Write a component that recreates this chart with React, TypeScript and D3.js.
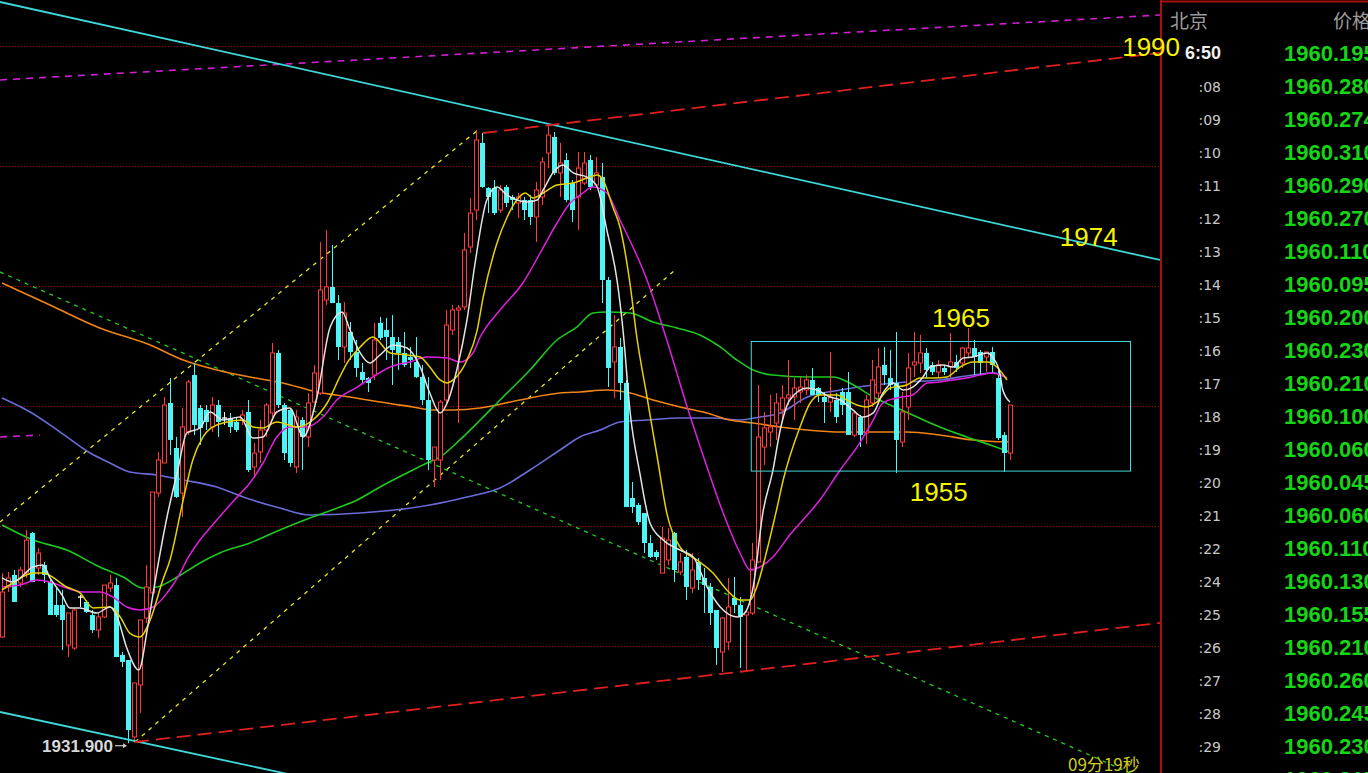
import React, { useEffect } from "react";
import * as d3 from "d3";

// ---------- candle data (index 0..168) ----------
const opens = [
1940.75,1944.92,1945.92,1945.25,1946.08,1949.42,1946.50,1946.75,1945.33,1943.42,
1943.42,1940.08,1939.83,1944.08,1943.67,1942.58,1941.33,1942.42,1944.83,1945.08,
1939.25,1938.83,1932.42,1936.75,1942.33,1944.42,1952.75,1955.25,1960.25,1956.50,
1952.75,1957.83,1962.58,1959.83,1959.67,1958.25,1960.08,1959.00,1959.00,1958.67,
1958.83,1959.50,1954.92,1956.17,1958.00,1959.42,1964.42,1960.08,1959.67,1954.92,
1958.83,1957.42,1960.33,1961.08,1968.83,1969.92,1968.58,1964.92,1966.17,1964.50,
1962.83,1962.33,1962.58,1966.92,1966.33,1965.75,1965.33,1964.42,1964.08,1963.67,
1962.42,1960.50,1955.50,1955.50,1960.50,1966.33,1968.00,1968.25,1973.25,1976.33,
1981.92,1978.17,1978.17,1976.33,1978.25,1977.42,1976.92,1977.17,1977.17,1975.75,
1977.42,1981.08,1982.42,1979.42,1980.50,1978.58,1977.42,1978.58,1980.50,1978.42,
1979.08,1970.50,1963.67,1964.92,1961.92,1952.33,1951.75,1951.08,1948.58,1947.83,
1946.08,1947.17,1949.42,1946.17,1947.42,1944.83,1947.00,1945.67,1944.92,1943.00,
1939.50,1940.33,1944.00,1943.42,1942.58,1942.75,1947.00,1956.58,1957.83,1958.58,
1959.67,1960.67,1960.75,1961.17,1961.33,1962.17,1961.50,1960.75,1960.33,1960.50,
1961.17,1961.17,1957.58,1959.08,1957.75,1960.25,1961.08,1963.42,1962.33,1961.92,
1957.00,1959.92,1963.42,1963.58,1964.42,1963.42,1962.83,1963.17,1963.25,1963.67,
1963.58,1964.42,1964.83,1964.50,1964.08,1964.50,1962.33,1957.58,1956.08];

const highs = [
1946.08,1946.17,1946.33,1946.58,1949.67,1949.50,1948.17,1947.00,1945.50,1944.83,
1944.67,1942.75,1943.17,1944.25,1943.83,1943.00,1942.75,1945.08,1945.92,1945.67,
1939.50,1938.83,1936.92,1942.17,1946.75,1952.83,1956.17,1960.75,1962.33,1957.42,
1959.83,1962.17,1963.58,1960.08,1960.08,1960.75,1960.50,1959.50,1959.42,1959.00,
1959.67,1960.50,1956.92,1958.83,1960.25,1965.25,1964.67,1960.25,1959.83,1959.67,
1959.08,1961.08,1963.42,1973.67,1974.67,1973.42,1969.25,1968.67,1967.00,1965.50,
1963.58,1962.42,1966.92,1967.42,1967.33,1967.58,1965.75,1966.17,1964.92,1965.75,
1963.42,1962.42,1956.58,1960.50,1968.00,1968.42,1968.42,1974.42,1977.33,1983.00,
1982.75,1978.25,1978.83,1978.42,1978.42,1977.58,1977.75,1977.42,1977.58,1978.67,
1980.75,1983.42,1982.83,1981.92,1981.08,1978.83,1981.17,1981.17,1980.92,1980.75,
1980.25,1970.75,1967.58,1965.67,1962.17,1953.67,1951.92,1951.08,1949.25,1948.00,
1949.92,1949.83,1949.50,1947.75,1948.00,1947.75,1947.33,1946.50,1945.25,1943.00,
1942.42,1945.67,1945.75,1944.08,1943.00,1948.58,1961.75,1959.50,1960.92,1961.08,
1961.75,1963.83,1962.33,1962.42,1962.58,1963.17,1961.58,1961.17,1964.50,1961.08,
1961.50,1962.83,1959.50,1959.25,1960.92,1963.83,1964.83,1964.92,1964.67,1966.17,
1961.17,1964.42,1966.17,1965.92,1964.83,1963.67,1963.83,1963.42,1966.08,1964.25,
1964.92,1966.50,1965.50,1964.67,1964.50,1964.92,1963.17,1957.83,1960.08];

const lows = [
1940.67,1944.50,1943.67,1944.92,1945.67,1945.33,1945.92,1945.25,1942.58,1942.42,
1939.67,1939.08,1939.67,1943.25,1942.75,1941.08,1940.67,1942.33,1944.50,1939.08,
1938.25,1931.90,1931.95,1934.42,1941.92,1944.42,1952.42,1955.25,1955.92,1952.33,
1950.75,1957.58,1957.58,1956.75,1958.00,1957.83,1957.42,1958.42,1957.75,1957.83,
1958.42,1954.50,1954.00,1955.25,1957.42,1959.08,1959.83,1955.50,1954.92,1954.42,
1954.67,1956.58,1960.25,1960.92,1968.42,1968.58,1963.83,1963.58,1963.83,1962.42,
1961.92,1961.17,1962.17,1965.50,1963.83,1961.75,1963.00,1963.25,1963.17,1962.33,
1960.08,1954.67,1953.25,1953.83,1960.25,1965.92,1958.58,1968.00,1972.75,1975.50,
1978.17,1976.08,1975.92,1976.08,1976.58,1976.33,1975.67,1975.50,1975.08,1973.67,
1976.75,1979.83,1979.25,1977.42,1977.00,1975.33,1974.67,1978.42,1978.00,1978.25,
1968.58,1961.58,1960.67,1960.50,1951.58,1951.08,1950.08,1947.75,1947.33,1947.17,
1946.08,1946.75,1945.33,1945.92,1943.83,1944.42,1944.67,1942.75,1941.75,1938.42,
1937.83,1939.67,1942.75,1938.17,1937.83,1942.58,1946.92,1955.08,1956.58,1957.17,
1958.83,1960.08,1958.83,1960.25,1960.92,1960.92,1960.33,1958.58,1959.50,1958.58,
1959.25,1957.58,1957.42,1956.58,1956.83,1959.92,1960.25,1961.75,1961.33,1954.42,
1956.58,1958.83,1962.42,1962.75,1962.33,1962.58,1962.33,1962.58,1962.33,1962.83,
1963.17,1964.00,1962.58,1962.58,1962.83,1962.75,1957.17,1954.50,1955.50];

const closes = [
1944.50,1945.67,1943.67,1946.33,1948.83,1945.33,1947.75,1945.92,1942.58,1942.58,
1942.17,1942.75,1943.00,1944.08,1942.83,1941.33,1942.42,1945.08,1945.25,1939.08,
1938.67,1933.00,1936.92,1942.17,1944.92,1952.83,1955.50,1960.08,1957.17,1952.42,
1958.25,1962.00,1958.42,1958.17,1958.67,1960.08,1958.67,1959.00,1958.25,1958.00,
1959.25,1954.67,1956.08,1958.00,1960.08,1964.42,1960.08,1956.08,1955.25,1959.08,
1957.42,1960.25,1962.75,1969.67,1969.92,1968.58,1964.92,1967.75,1964.50,1963.17,
1962.17,1961.92,1965.50,1965.67,1965.75,1964.67,1964.42,1963.42,1963.83,1962.42,
1960.50,1955.50,1956.58,1960.33,1966.75,1968.00,1968.17,1973.00,1976.08,1982.17,
1978.25,1977.42,1976.08,1978.00,1976.92,1977.17,1977.42,1976.33,1975.75,1978.00,
1980.33,1982.58,1979.42,1980.25,1977.17,1976.33,1979.83,1980.25,1978.25,1979.42,
1970.50,1963.17,1964.92,1961.92,1951.58,1951.58,1950.33,1948.58,1947.42,1947.42,
1949.00,1948.83,1946.33,1947.00,1944.92,1946.33,1945.50,1945.08,1942.75,1939.83,
1942.33,1943.25,1943.42,1942.42,1942.83,1947.17,1957.42,1958.17,1958.25,1960.25,
1960.67,1960.92,1961.50,1961.58,1962.17,1960.92,1960.92,1960.33,1960.75,1959.08,
1960.08,1957.58,1959.42,1957.58,1960.50,1962.17,1963.25,1962.58,1961.75,1957.17,
1959.50,1963.17,1963.67,1964.42,1963.00,1962.83,1963.42,1962.83,1963.67,1963.17,
1964.83,1964.83,1964.08,1963.58,1964.50,1963.42,1957.33,1956.08,1960.08];

// ---------- moving average lines (bar index, price) ----------
const maWhiteIdx = [0,1.8,5.2,6.8,8,10,11.3,13,15.8,18,19.2,20.8,22.8,24.2,25.2,27.5,29.3,30.8,33,34.7,36.8,39.7,41.8,43.5,45.8,48,50.2,52.5,54.7,56.7,58,59.7,61.3,63,65.2,67.5,69.7,71.3,73,74.2,75.8,77.5,78.8,80.8,82.5,84.2,85.8,87.5,89.2,90.2,91.8,93.5,95.2,97.5,99.2,100.8,102.5,103.5,104.7,106.3,108,110.2,113,115.2,117.5,119.7,122.5,123.8,125.2,126.8,128.5,129.7,131.3,134.2,135.8,138,139.7,141.8,143.5,145.2,146.8,148.5,150.2,151.8,153.5,154.7,156.8,158.5,160.2,161.8,164.2,165.2,166.3,166.8,168];
const maWhite = [1945.67,1945.33,1946.58,1946.75,1945.67,1944.25,1943.17,1943.17,1942.75,1943.25,1942.42,1939.83,1938.00,1941.33,1944.42,1950.75,1954.67,1957.75,1958.17,1959.50,1958.83,1959.08,1957.33,1957.42,1959.50,1959.83,1957.42,1960.75,1966.58,1967.83,1966.33,1964.42,1963.58,1964.25,1965.08,1964.83,1963.25,1961.08,1959.42,1960.25,1963.00,1967.17,1971.75,1977.17,1978.25,1977.58,1977.17,1977.00,1977.17,1978.00,1979.42,1980.08,1979.42,1979.08,1978.25,1974.67,1970.50,1966.33,1959.42,1954.42,1950.25,1948.83,1948.00,1947.42,1944.92,1943.25,1942.42,1942.75,1944.92,1951.08,1954.67,1958.00,1960.50,1961.50,1961.33,1960.75,1960.50,1959.67,1959.08,1959.42,1961.08,1961.92,1961.33,1961.58,1962.42,1963.25,1963.42,1963.25,1964.00,1964.08,1964.42,1964.00,1962.75,1961.33,1960.33];

const maYellowIdx = [0,1.8,5.2,6.8,10.8,13,15.2,18,19.7,21.3,23,24.7,26.8,28,30.2,31.8,33.5,35.8,36.8,40.2,41.8,43.5,45.8,49.2,51.8,54.2,56.3,57.5,59.7,61.8,64.7,67.5,69.7,71.3,73,74.2,75.2,77.5,79.2,80.2,82.5,84.2,85.8,87.2,88.5,90.2,92.5,95.2,97.5,99.2,100.2,101.8,103,104.7,105.8,107.5,109.2,110.8,113,115.8,118.5,120.8,123,124.7,125.8,127.5,129.2,130.2,133,134.7,136.3,139.2,140.8,142.5,144.2,145.8,148,150.8,153,155.2,157.5,159.7,161.8,164.2,165.8,167.5];
const maYellow = [1944.67,1945.25,1946.08,1946.08,1944.92,1944.42,1943.17,1943.25,1942.42,1941.08,1940.75,1942.17,1945.50,1947.17,1952.17,1955.50,1957.42,1958.42,1958.58,1958.83,1958.25,1958.17,1958.67,1958.25,1958.83,1960.25,1962.42,1963.58,1964.92,1965.75,1964.42,1964.25,1964.08,1963.25,1962.17,1961.92,1962.17,1963.83,1966.33,1969.08,1973.58,1975.75,1977.17,1977.75,1977.33,1977.75,1978.42,1978.58,1979.00,1979.25,1978.83,1976.58,1974.92,1970.08,1965.75,1960.75,1955.75,1951.08,1948.25,1947.17,1946.08,1944.67,1943.83,1943.83,1944.92,1948.00,1951.58,1953.83,1958.25,1960.25,1960.92,1960.92,1960.50,1960.08,1959.92,1960.33,1961.50,1961.75,1962.33,1962.33,1962.42,1963.25,1963.67,1963.67,1963.25,1962.17];

const maMagentaIdx = [0,3,5.8,8,10.8,13.5,16.3,18.5,20.8,23,25.2,27.5,29.7,30.8,33,35.8,39.2,41.3,43.5,45.8,48,50.8,53.5,55.8,59.2,61.8,64.7,68,70.8,74.2,76.3,78.5,79.7,83,86.8,89.7,92.5,94.7,96.8,98.5,100.8,103,107.5,110.8,114.2,117.5,120.2,123,124.7,126.3,128.5,131.3,136.3,139.7,142.5,145.2,146.8,149.2,151.8,154.2,156.3,158.5,160.8,163,165.2,167.5];
const maMagenta = [1944.92,1945.08,1945.50,1945.33,1944.83,1944.50,1944.50,1944.08,1943.25,1943.00,1943.25,1944.42,1946.08,1947.17,1948.83,1950.50,1952.42,1953.58,1955.25,1957.42,1958.25,1958.25,1959.08,1960.50,1961.58,1962.42,1963.25,1963.67,1964.08,1964.00,1963.67,1964.42,1965.75,1968.00,1970.25,1972.75,1975.25,1976.92,1977.75,1978.25,1977.75,1975.50,1970.50,1965.50,1959.92,1954.92,1951.08,1947.75,1946.33,1946.58,1947.42,1949.25,1952.17,1954.67,1956.58,1958.83,1960.25,1960.67,1960.92,1961.92,1962.00,1962.17,1962.33,1962.58,1962.75,1962.33];

const maGreenIdx = [0,5.2,10.8,16.3,20.2,23.5,25.8,29.2,33,36.3,41.3,46.3,51.3,56.3,59.2,63,67.5,70.8,73,76.3,79.7,83,88,92.5,95.8,98.5,100.8,104.7,108.5,112.5,116.3,119.7,122.5,125.2,128.5,134.2,138.5,141.3,145.2,149.2,152.5,156.3,160.8,164.7,168];
const maGreen = [1950.08,1948.83,1948.00,1946.58,1945.75,1944.83,1944.92,1945.75,1946.92,1947.75,1948.58,1949.67,1950.67,1951.58,1952.17,1953.25,1954.42,1955.25,1955.75,1957.17,1958.83,1960.50,1963.00,1965.50,1966.58,1967.75,1967.83,1967.75,1967.00,1966.50,1965.92,1964.92,1963.83,1963.00,1962.58,1962.42,1962.42,1961.92,1960.75,1959.83,1959.08,1958.25,1957.42,1956.75,1956.17];

const maOrangeIdx = [0,8,16.3,24.7,30.2,35.8,41.3,46.8,52.5,58,63,68.5,71.8,75.2,79.7,86.3,93,96.3,100.8,104.7,108.5,113,117.5,121.3,125.2,129.7,134.2,139.7,145.2,150.8,156.3,161.8,168];
const maOrange = [1970.25,1968.42,1966.50,1965.08,1963.83,1963.00,1962.42,1961.92,1961.17,1960.75,1960.33,1959.92,1959.67,1959.67,1959.83,1960.50,1961.08,1961.17,1961.33,1961.08,1960.50,1959.92,1959.42,1958.83,1958.58,1958.25,1958.00,1957.83,1957.83,1957.83,1957.58,1957.17,1957.00];

const maBlueIdx = [0,4.7,9.7,14.7,18,21.3,25.8,30.2,35.8,40.2,46.3,51.3,59.7,71.3,77.5,83,88,93,96.3,99.7,103,107.5,113,118.5,123,126.3,129.7,134.2,139.7,145.2,150.8,156.3,161.8,165.2,167.5];
const maBlue = [1960.67,1959.50,1957.83,1956.08,1955.25,1954.50,1954.25,1953.83,1953.25,1952.42,1951.50,1950.92,1951.08,1951.75,1952.42,1953.17,1954.67,1956.33,1957.42,1958.00,1958.67,1958.83,1959.00,1959.00,1958.83,1959.08,1959.42,1960.75,1961.33,1961.75,1962.00,1962.17,1962.58,1962.75,1962.33];

// ---------- drawn trend lines: [bar index, price] end points ----------
const trendCyanTop = [[-0.33, 1993.67], [193, 1972.17]];
const trendCyanBottom = [[-0.33, 1934.5], [60, 1928.0]];
const trendMagentaTop = [[-0.33, 1987.17], [193, 1992.58]];
const trendMagentaLeft = [[-0.33, 1957.42], [6.3, 1957.58]];
const trendRedTop = [[80.17, 1982.75], [193, 1989.42]];
const trendRedBottom = [[22.17, 1932.0], [193, 1941.92]];
const trendYellowUpper = [[-0.33, 1950.33], [79.33, 1983.0]];
const trendYellowLower = [[22.17, 1932.0], [112.17, 1971.33]];
const trendGreen = [[-0.33, 1971.17], [188, 1929.42]];

const gridPrices = [1990, 1980, 1970, 1960, 1950, 1940];
const boxRange = { i0: 124.8, i1: 188, top: 1965.4, bottom: 1954.6 };

const annotations = [
  { text: "1990", i: 186.7, p: 1989.2 },
  { text: "1974", i: 176.3, p: 1973.3 },
  { text: "1965", i: 155.0, p: 1966.6 },
  { text: "1955", i: 151.3, p: 1952.1 },
];
const lowLabel = { text: "1931.900", i: 21, p: 1931.9 };
const timerText = "09分19秒";

// ---------- right side tick list ----------
const tickTimes = ["6:50", ":08", ":09", ":10", ":11", ":12", ":13", ":14", ":15", ":16", ":17", ":18", ":19", ":20", ":21", ":22", ":24", ":25", ":26", ":27", ":28", ":29", ":30"];
const tickPrices = ["1960.195", "1960.280", "1960.274", "1960.310", "1960.290", "1960.270", "1960.110", "1960.095", "1960.200", "1960.230", "1960.210", "1960.100", "1960.060", "1960.045", "1960.060", "1960.110", "1960.130", "1960.155", "1960.210", "1960.260", "1960.245", "1960.230", "1960.215"];

const W = 1368;
const H = 773;
const PLOT_RIGHT = 1160;

const xs = d3.scaleLinear().domain([0, 168]).range([2, 1010]);
const ys = d3.scaleLinear().domain([1930, 1990]).range([766, 46]);

const RED = "#ff3b3b";
const CYAN = "#4ff5f5";

function maPath(idx: number[], vals: number[]) {
  const pts = idx.map((v, k) => [v, vals[k]] as [number, number]);
  return d3
    .line<[number, number]>()
    .x((d) => xs(d[0]))
    .y((d) => ys(d[1]))
    .curve(d3.curveMonotoneX)(pts) as string;
}

function seg(p: number[][]) {
  return {
    x1: xs(p[0][0]),
    y1: ys(p[0][1]),
    x2: xs(p[1][0]),
    y2: ys(p[1][1]),
  };
}

export default function App() {
  useEffect(() => {
    document.body.style.margin = "0";
    document.body.style.background = "#000";
  }, []);

  const candles = d3.range(opens.length).map((i) => {
    const o = opens[i], c = closes[i], h = highs[i], l = lows[i];
    const xr = Math.round(xs(i));
    const xc = xr + 0.5;
    if (c > o) {
      return (
        <g key={i}>
          <line x1={xc} x2={xc} y1={ys(h)} y2={ys(c)} stroke={RED} strokeWidth={1} />
          <line x1={xc} x2={xc} y1={ys(o)} y2={ys(l)} stroke={RED} strokeWidth={1} />
          <rect x={xr - 1.5} y={ys(c)} width={4} height={Math.max(1, ys(o) - ys(c))} fill="#000" stroke={RED} strokeWidth={1} />
        </g>
      );
    } else if (c < o) {
      return (
        <g key={i}>
          <line x1={xc} x2={xc} y1={ys(h)} y2={ys(l)} stroke={CYAN} strokeWidth={1} />
          <rect x={xr - 2} y={ys(o)} width={5} height={Math.max(1.5, ys(c) - ys(o))} fill={CYAN} />
        </g>
      );
    }
    return (
      <g key={i}>
        <line x1={xc} x2={xc} y1={ys(h)} y2={ys(l)} stroke="#f0f0f0" strokeWidth={1} />
        <line x1={xr - 2} x2={xr + 3} y1={ys(c)} y2={ys(c)} stroke="#f0f0f0" strokeWidth={1.5} />
      </g>
    );
  });

  const lowX = xs(lowLabel.i);
  const lowY = ys(lowLabel.p);

  return (
    <div style={{ position: "absolute", left: 0, top: 0 }}>
      <svg width={W} height={H} style={{ display: "block", background: "#000" }}>
        <defs>
          <clipPath id="plot">
            <rect x={0} y={0} width={PLOT_RIGHT} height={H} />
          </clipPath>
        </defs>
        <rect x={0} y={0} width={W} height={H} fill="#000" />
        <g clipPath="url(#plot)">
          {gridPrices.map((p) => (
            <line key={p} x1={0} x2={PLOT_RIGHT} y1={Math.round(ys(p)) + 0.5} y2={Math.round(ys(p)) + 0.5} stroke="#b00000" strokeWidth={1} strokeDasharray="1 2" />
          ))}

          {/* trend lines */}
          <line {...seg(trendMagentaTop)} stroke="#d020d0" strokeWidth={1.6} strokeDasharray="7 6" />
          <line {...seg(trendMagentaLeft)} stroke="#d020d0" strokeWidth={1.6} strokeDasharray="7 6" />
          <line {...seg(trendGreen)} stroke="#20d020" strokeWidth={1.3} strokeDasharray="4 5" />
          <line {...seg(trendYellowUpper)} stroke="#e8e820" strokeWidth={1.3} strokeDasharray="4 5" />
          <line {...seg(trendYellowLower)} stroke="#e8e820" strokeWidth={1.3} strokeDasharray="4 5" />

          {/* moving averages */}
          <path d={maPath(maBlueIdx, maBlue)} fill="none" stroke="#6b6bd8" strokeWidth={1.6} />
          <path d={maPath(maOrangeIdx, maOrange)} fill="none" stroke="#f08418" strokeWidth={1.6} />
          <path d={maPath(maGreenIdx, maGreen)} fill="none" stroke="#1fc81f" strokeWidth={1.6} />

          {candles}

          <path d={maPath(maMagentaIdx, maMagenta)} fill="none" stroke="#e020e0" strokeWidth={1.5} />
          <path d={maPath(maYellowIdx, maYellow)} fill="none" stroke="#e6d200" strokeWidth={1.5} />
          <path d={maPath(maWhiteIdx, maWhite)} fill="none" stroke="#e4e4e4" strokeWidth={1.5} />

          <line {...seg(trendCyanTop)} stroke="#3ed8d8" strokeWidth={1.8} />
          <line {...seg(trendCyanBottom)} stroke="#3ed8d8" strokeWidth={1.8} />
          <line {...seg(trendRedTop)} stroke="#e02020" strokeWidth={1.8} strokeDasharray="14 7" />
          <line {...seg(trendRedBottom)} stroke="#e02020" strokeWidth={1.8} strokeDasharray="14 7" />

          {/* box */}
          <rect x={xs(boxRange.i0) + 0.5} y={Math.round(ys(boxRange.top)) + 0.5} width={xs(boxRange.i1) - xs(boxRange.i0)} height={ys(boxRange.bottom) - ys(boxRange.top)} fill="none" stroke="#40d8d8" strokeWidth={1} />

          {/* low label */}
          <text x={lowX - 15} y={lowY + 8.5} textAnchor="end" fontFamily="Liberation Sans, Arial, sans-serif" fontWeight="bold" fontSize={17} fill="#d8d8d8">{lowLabel.text}</text>
          <line x1={lowX - 13} x2={lowX - 2} y1={lowY + 2.5} y2={lowY + 2.5} stroke="#c8c8c8" strokeWidth={1.2} />
          <path d={`M${lowX - 1},${lowY + 2.5} l-4,-2.5 l0,5 z`} fill="#c8c8c8" />

          <text x={xs(188) - 62} y={771} fontFamily="Noto Sans CJK SC, sans-serif" fontSize={17} fill="#d2cc20">{timerText}</text>
        </g>

        {/* right side panel */}
        <line x1={1161} x2={1161} y1={0} y2={H} stroke="#a81010" strokeWidth={2} />
        <line x1={1161} x2={W} y1={1.5} y2={1.5} stroke="#a81010" strokeWidth={2} />
        <text x={1170} y={28} fontFamily="Noto Sans CJK SC, sans-serif" fontSize={19} fill="#9a9a9a">北京</text>
        <text x={1333} y={28} fontFamily="Noto Sans CJK SC, sans-serif" fontSize={19} fill="#9a9a9a">价格</text>
        {tickTimes.map((t, k) => (
          <text key={"t" + k} x={1221} y={53 + 33 * k + 6} textAnchor="end"
            fontFamily={k === 0 ? "Liberation Sans, Arial, sans-serif" : "DejaVu Sans, sans-serif"}
            fontWeight={k === 0 ? "bold" : "normal"} fontSize={k === 0 ? 18 : 14}
            fill={k === 0 ? "#f0f0f0" : "#c8c8c8"}>{t}</text>
        ))}
        {tickPrices.map((p, k) => (
          <text key={"p" + k} x={1284} y={53 + 33 * k + 8} fontFamily="Liberation Sans, Arial, sans-serif"
            fontWeight="bold" fontSize={22} fill="#16d416">{p}</text>
        ))}

        {/* price annotations */}
        {annotations.map((a) => (
          <text key={a.text} x={xs(a.i)} y={ys(a.p)} fontFamily="Liberation Sans, sans-serif" fontSize={26} fill="#f5f500">{a.text}</text>
        ))}
      </svg>
    </div>
  );
}
